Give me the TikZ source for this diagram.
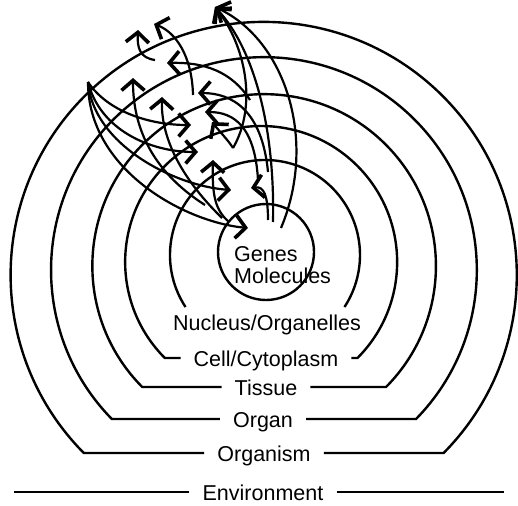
\documentclass[tikz,border=0pt]{standalone}
\usepackage{fontspec}
\setmainfont{Liberation Sans}
\usetikzlibrary{arrows.meta}

\begin{document}
\begin{tikzpicture}[x=1pt, y=-1pt, line width=2.4pt,
    every node/.style={font=\fontsize{21.5}{22}\selectfont},
    lvl/.style={inner xsep=12pt, inner ysep=0pt, text height=16pt, text depth=0pt},
    cause/.style={line width=2.2pt,
      -{Straight Barb[length=10pt, width=23pt, line width=3.6pt]}}]
  \path[use as bounding box, fill=white] (0,0) rectangle (518,505);

  % Genes / molecules at the core
  \node[circle, draw, minimum size=96pt, inner sep=0pt] (genes) at (266,252) {};
  \node[align=left, anchor=west, inner sep=0pt] (genestxt) at (233,265) {Genes\\Molecules};

  % Level labels
  \node[lvl] (nuc)   at (267,322) {Nucleus/Organelles};
  \node[lvl] (cell)  at (266,358) {Cell/Cytoplasm};
  \node[lvl] (tis)   at (266,387) {Tissue};
  \node[lvl] (organ) at (263,419) {Organ};
  \node[lvl] (orgm)  at (264,453) {Organism};
  \node[lvl] (env)   at (263,492) {Environment};

  % Level boundaries: open arcs ending at the labels
  \draw ([shift={(-81.5,-15)}]nuc.center) arc[start angle=213.2, end angle=-33.2, radius=95pt];
  \draw (cell.west) -- ++(-15.7,0) arc[start angle=224.9, end angle=-44.9, radius=136pt] -- (cell.east);
  \draw (tis.west) -- ++(-79.3,0) arc[start angle=224.8, end angle=-44.8, radius=171.8pt] -- (tis.east);
  \draw (organ.west) -- ++(-108.1,0) arc[start angle=224.4, end angle=-44.4, radius=212.9pt] -- (organ.east);
  \draw (orgm.west) -- ++(-120.4,0) arc[start angle=224.7, end angle=-44.7, radius=253.1pt] -- (orgm.east);
  \draw (env.west) -- ++(-175.7,0);
  \draw (env.east) -- ++(167.7,0);

  % Ends of the causal arrows
  \coordinate (src)   at (88,82);
  \coordinate (dTis)  at (191,125);
  \coordinate (dCell) at (198,152);
  \coordinate (dNuc)  at (231,190);
  \coordinate (dGen)  at (248,228);
  \coordinate (uEnv)  at (215,7);
  \coordinate (uEnvA) at (138,30);
  \coordinate (uEnvB) at (154,24);
  \coordinate (uOrgm) at (133,78);
  \coordinate (lOrgm) at (167,63);
  \coordinate (uOrg)  at (162,97);
  \coordinate (lOrg)  at (198,93);
  \coordinate (lTis)  at (205,112);
  \coordinate (uTis)  at (212,122);
  \coordinate (uCell) at (213,160);
  \coordinate (uNuc)  at (251,188);
  \coordinate (gA) at (268,220);
  \coordinate (gB) at (273,222);
  \coordinate (gC) at (281,228);
  \coordinate (gD) at (229,222);
  \coordinate (sA) at (233,148);
  \coordinate (sB) at (222,218);
  \coordinate (sC) at (205,205);
  \coordinate (sD) at (155,60);
  \coordinate (sE) at (193,95);
  \coordinate (sF) at (250,100);
  \coordinate (sG) at (268,172);
  \coordinate (sH) at (258,180);

  % Downward: environment into the inner levels
  \draw[cause] (src) .. controls (108,112) and (150,125) .. (dTis);
  \draw[cause] (src) .. controls (100,130) and (150,152) .. (dCell);
  \draw[cause] (src) .. controls (93,145) and (175,186) .. (dNuc);
  \draw[cause] (src) .. controls (88,170) and (185,222) .. (dGen);

  % Upward: genes and lower levels out to the higher ones
  \draw[cause] (sA) .. controls (258,105) and (245,45) .. (uEnv);
  \draw[cause] (gB) .. controls (275,130) and (255,50) .. (uEnv);
  \draw[cause] (gC) .. controls (318,140) and (285,40) .. (uEnv);
  \draw[cause] (gA) .. controls (268,196) and (264,186) .. (uNuc);
  \draw[cause] (gD) .. controls (215,210) and (212,195) .. (uCell);
  \draw[cause] (sB) .. controls (178,175) and (161,135) .. (uOrg);
  \draw[cause] (sC) .. controls (150,170) and (133,125) .. (uOrgm);
  \draw[cause] (sD) .. controls (140,58) and (137,48) .. (uEnvA);
  \draw[cause] (sE) .. controls (192,55) and (175,32) .. (uEnvB);
  \draw[cause] (sF) .. controls (232,72) and (205,62) .. (lOrgm);
  \draw[cause] (sG) .. controls (262,110) and (232,93) .. (lOrg);
  \draw[cause] (sH) .. controls (255,128) and (235,112) .. (lTis);
  \draw[cause] (sA) .. controls (228,140) and (220,132) .. (uTis);
\end{tikzpicture}
\end{document}
